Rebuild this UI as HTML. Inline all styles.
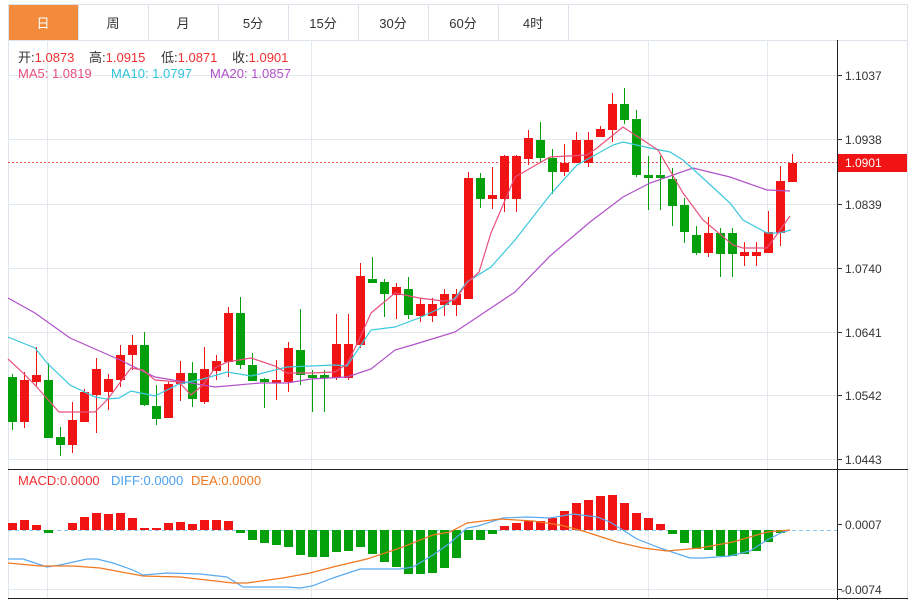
<!DOCTYPE html>
<html><head><meta charset="utf-8"><style>
html,body{margin:0;padding:0;background:#fff;}
body{width:918px;height:600px;overflow:hidden;position:relative;font-family:"Liberation Sans","Noto Sans CJK SC",sans-serif;}
svg{position:absolute;left:0;top:0;}
</style></head><body>
<svg width="918" height="600" viewBox="0 0 918 600" xmlns="http://www.w3.org/2000/svg" font-family="Liberation Sans, Noto Sans CJK SC, sans-serif">
<rect x="8.5" y="4.5" width="899" height="36" fill="#fff" stroke="#dde3ea"/>
<rect x="9" y="5" width="69" height="35" fill="#f28c3c"/>
<g stroke="#dde3ea"><line x1="78.5" y1="5" x2="78.5" y2="40"/><line x1="148.5" y1="5" x2="148.5" y2="40"/><line x1="218.5" y1="5" x2="218.5" y2="40"/><line x1="288.5" y1="5" x2="288.5" y2="40"/><line x1="358.5" y1="5" x2="358.5" y2="40"/><line x1="428.5" y1="5" x2="428.5" y2="40"/><line x1="498.5" y1="5" x2="498.5" y2="40"/><line x1="568.5" y1="5" x2="568.5" y2="40"/></g>
<g font-size="13" text-anchor="middle" fill="#333"><text x="43" y="28" fill="#fff">日</text><text x="113" y="28">周</text><text x="183" y="28">月</text><text x="253" y="28">5分</text><text x="323" y="28">15分</text><text x="393" y="28">30分</text><text x="463" y="28">60分</text><text x="533" y="28">4时</text></g>
<line x1="8.5" y1="40" x2="8.5" y2="600" stroke="#dde3ea"/>
<line x1="907.5" y1="40" x2="907.5" y2="600" stroke="#dde3ea"/>
<g stroke="#e4e9ef"><line x1="8" y1="75.5" x2="837" y2="75.5"/><line x1="8" y1="139.5" x2="837" y2="139.5"/><line x1="8" y1="204.5" x2="837" y2="204.5"/><line x1="8" y1="268.5" x2="837" y2="268.5"/><line x1="8" y1="332.5" x2="837" y2="332.5"/><line x1="8" y1="395.5" x2="837" y2="395.5"/><line x1="8" y1="459.5" x2="837" y2="459.5"/><line x1="8" y1="589.5" x2="837" y2="589.5"/>
<line x1="47.5" y1="40" x2="47.5" y2="599"/><line x1="311.5" y1="40" x2="311.5" y2="599"/><line x1="648.5" y1="40" x2="648.5" y2="599"/><line x1="767.5" y1="40" x2="767.5" y2="599"/></g>
<line x1="837.5" y1="40" x2="837.5" y2="600" stroke="#222"/>
<line x1="8" y1="469.5" x2="908" y2="469.5" stroke="#222"/>
<line x1="8" y1="598.5" x2="908" y2="598.5" stroke="#222"/>
<g stroke="#333"><line x1="837" y1="75.5" x2="842" y2="75.5"/><line x1="837" y1="139.5" x2="842" y2="139.5"/><line x1="837" y1="204.5" x2="842" y2="204.5"/><line x1="837" y1="268.5" x2="842" y2="268.5"/><line x1="837" y1="332.5" x2="842" y2="332.5"/><line x1="837" y1="395.5" x2="842" y2="395.5"/><line x1="837" y1="459.5" x2="842" y2="459.5"/><line x1="837" y1="524.5" x2="842" y2="524.5"/><line x1="837" y1="589.5" x2="842" y2="589.5"/></g>
<g font-size="12" fill="#333"><text x="845" y="80">1.1037</text><text x="845" y="144">1.0938</text><text x="845" y="209">1.0839</text><text x="845" y="273">1.0740</text><text x="845" y="337">1.0641</text><text x="845" y="400">1.0542</text><text x="845" y="464">1.0443</text><text x="845" y="529">0.0007</text><text x="841" y="594">-0.0074</text></g>
<line x1="8" y1="162.5" x2="837" y2="162.5" stroke="#f05050" stroke-dasharray="2,2"/>
<rect x="838" y="154" width="69" height="18" fill="#f01414"/>
<text x="845" y="167" font-size="12" fill="#fff">1.0901</text>
<g font-size="13"><text x="18" y="62" fill="#333">开:<tspan fill="#f03030">1.0873</tspan><tspan x="89" fill="#333">高:</tspan><tspan fill="#f03030">1.0915</tspan><tspan x="161" fill="#333">低:</tspan><tspan fill="#f03030">1.0871</tspan><tspan x="232" fill="#333">收:</tspan><tspan fill="#f03030">1.0901</tspan></text>
<text x="18" y="78" fill="#e8507c">MA5: 1.0819</text><text x="111" y="78" fill="#2ec4dc">MA10: 1.0797</text><text x="210" y="78" fill="#b050c8">MA20: 1.0857</text>
<text x="18" y="485" fill="#f03030">MACD:0.0000</text><text x="111" y="485" fill="#4aa0f0">DIFF:0.0000</text><text x="191" y="485" fill="#f07820">DEA:0.0000</text></g>
<g id="c">
<line x1="12.5" y1="374" x2="12.5" y2="430" stroke="#04a00c"/><rect x="8" y="377" width="9" height="45" fill="#04a00c"/>
<line x1="24.5" y1="372" x2="24.5" y2="428" stroke="#f01414"/><rect x="20" y="380" width="9" height="42" fill="#f01414"/>
<line x1="36.5" y1="347" x2="36.5" y2="386" stroke="#f01414"/><rect x="32" y="375" width="9" height="7" fill="#f01414"/>
<line x1="48.5" y1="363" x2="48.5" y2="438" stroke="#04a00c"/><rect x="44" y="380" width="9" height="58" fill="#04a00c"/>
<line x1="60.5" y1="427" x2="60.5" y2="456" stroke="#04a00c"/><rect x="56" y="437" width="9" height="8" fill="#04a00c"/>
<line x1="72.5" y1="402" x2="72.5" y2="453" stroke="#f01414"/><rect x="68" y="420" width="9" height="25" fill="#f01414"/>
<line x1="84.5" y1="389" x2="84.5" y2="422" stroke="#f01414"/><rect x="80" y="392" width="9" height="30" fill="#f01414"/>
<line x1="96.5" y1="358" x2="96.5" y2="433" stroke="#f01414"/><rect x="92" y="369" width="9" height="26" fill="#f01414"/>
<line x1="108.5" y1="374" x2="108.5" y2="410" stroke="#f01414"/><rect x="104" y="379" width="9" height="13" fill="#f01414"/>
<line x1="120.5" y1="345" x2="120.5" y2="387" stroke="#f01414"/><rect x="116" y="355" width="9" height="25" fill="#f01414"/>
<line x1="132.5" y1="335" x2="132.5" y2="370" stroke="#f01414"/><rect x="128" y="345" width="9" height="10" fill="#f01414"/>
<line x1="144.5" y1="332" x2="144.5" y2="406" stroke="#04a00c"/><rect x="140" y="345" width="9" height="60" fill="#04a00c"/>
<line x1="156.5" y1="385" x2="156.5" y2="425" stroke="#04a00c"/><rect x="152" y="406" width="9" height="13" fill="#04a00c"/>
<line x1="168.5" y1="382" x2="168.5" y2="418" stroke="#f01414"/><rect x="164" y="384" width="9" height="34" fill="#f01414"/>
<line x1="180.5" y1="361" x2="180.5" y2="401" stroke="#f01414"/><rect x="176" y="373" width="9" height="11" fill="#f01414"/>
<line x1="192.5" y1="362" x2="192.5" y2="407" stroke="#04a00c"/><rect x="188" y="373" width="9" height="26" fill="#04a00c"/>
<line x1="204.5" y1="347" x2="204.5" y2="404" stroke="#f01414"/><rect x="200" y="369" width="9" height="33" fill="#f01414"/>
<line x1="216.5" y1="355" x2="216.5" y2="380" stroke="#f01414"/><rect x="212" y="361" width="9" height="10" fill="#f01414"/>
<line x1="228.5" y1="307" x2="228.5" y2="377" stroke="#f01414"/><rect x="224" y="313" width="9" height="49" fill="#f01414"/>
<line x1="240.5" y1="297" x2="240.5" y2="369" stroke="#04a00c"/><rect x="236" y="313" width="9" height="52" fill="#04a00c"/>
<line x1="252.5" y1="353" x2="252.5" y2="381" stroke="#04a00c"/><rect x="248" y="365" width="9" height="16" fill="#04a00c"/>
<line x1="264.5" y1="378" x2="264.5" y2="408" stroke="#04a00c"/><rect x="260" y="379" width="9" height="3" fill="#04a00c"/>
<line x1="276.5" y1="360" x2="276.5" y2="400" stroke="#f01414"/><rect x="272" y="380" width="9" height="3" fill="#f01414"/>
<line x1="288.5" y1="342" x2="288.5" y2="392" stroke="#f01414"/><rect x="284" y="348" width="9" height="34" fill="#f01414"/>
<line x1="300.5" y1="309" x2="300.5" y2="385" stroke="#04a00c"/><rect x="296" y="350" width="9" height="25" fill="#04a00c"/>
<line x1="312.5" y1="370" x2="312.5" y2="412" stroke="#04a00c"/><rect x="308" y="375" width="9" height="3" fill="#04a00c"/>
<line x1="324.5" y1="370" x2="324.5" y2="412" stroke="#04a00c"/><rect x="320" y="375" width="9" height="3" fill="#04a00c"/>
<line x1="336.5" y1="314" x2="336.5" y2="380" stroke="#f01414"/><rect x="332" y="344" width="9" height="34" fill="#f01414"/>
<line x1="348.5" y1="314" x2="348.5" y2="380" stroke="#f01414"/><rect x="344" y="344" width="9" height="34" fill="#f01414"/>
<line x1="360.5" y1="263" x2="360.5" y2="348" stroke="#f01414"/><rect x="356" y="276" width="9" height="69" fill="#f01414"/>
<line x1="372.5" y1="257" x2="372.5" y2="283" stroke="#04a00c"/><rect x="368" y="279" width="9" height="4" fill="#04a00c"/>
<line x1="384.5" y1="279" x2="384.5" y2="317" stroke="#04a00c"/><rect x="380" y="282" width="9" height="12" fill="#04a00c"/>
<line x1="396.5" y1="283" x2="396.5" y2="319" stroke="#f01414"/><rect x="392" y="287" width="9" height="8" fill="#f01414"/>
<line x1="408.5" y1="277" x2="408.5" y2="319" stroke="#04a00c"/><rect x="404" y="289" width="9" height="26" fill="#04a00c"/>
<line x1="420.5" y1="298" x2="420.5" y2="322" stroke="#f01414"/><rect x="416" y="304" width="9" height="12" fill="#f01414"/>
<line x1="432.5" y1="298" x2="432.5" y2="322" stroke="#f01414"/><rect x="428" y="304" width="9" height="12" fill="#f01414"/>
<line x1="444.5" y1="289" x2="444.5" y2="316" stroke="#f01414"/><rect x="440" y="294" width="9" height="11" fill="#f01414"/>
<line x1="456.5" y1="289" x2="456.5" y2="316" stroke="#f01414"/><rect x="452" y="294" width="9" height="11" fill="#f01414"/>
<line x1="468.5" y1="172" x2="468.5" y2="299" stroke="#f01414"/><rect x="464" y="178" width="9" height="121" fill="#f01414"/>
<line x1="480.5" y1="173" x2="480.5" y2="208" stroke="#04a00c"/><rect x="476" y="178" width="9" height="21" fill="#04a00c"/>
<line x1="492.5" y1="167" x2="492.5" y2="209" stroke="#f01414"/><rect x="488" y="195" width="9" height="4" fill="#f01414"/>
<line x1="504.5" y1="155" x2="504.5" y2="212" stroke="#f01414"/><rect x="500" y="156" width="9" height="43" fill="#f01414"/>
<line x1="516.5" y1="155" x2="516.5" y2="212" stroke="#f01414"/><rect x="512" y="156" width="9" height="43" fill="#f01414"/>
<line x1="528.5" y1="130" x2="528.5" y2="165" stroke="#f01414"/><rect x="524" y="138" width="9" height="21" fill="#f01414"/>
<line x1="540.5" y1="122" x2="540.5" y2="163" stroke="#04a00c"/><rect x="536" y="140" width="9" height="18" fill="#04a00c"/>
<line x1="552.5" y1="149" x2="552.5" y2="194" stroke="#04a00c"/><rect x="548" y="158" width="9" height="14" fill="#04a00c"/>
<line x1="564.5" y1="144" x2="564.5" y2="176" stroke="#f01414"/><rect x="560" y="163" width="9" height="9" fill="#f01414"/>
<line x1="576.5" y1="132" x2="576.5" y2="163" stroke="#f01414"/><rect x="572" y="140" width="9" height="23" fill="#f01414"/>
<line x1="588.5" y1="132" x2="588.5" y2="167" stroke="#f01414"/><rect x="584" y="140" width="9" height="23" fill="#f01414"/>
<line x1="600.5" y1="126" x2="600.5" y2="137" stroke="#f01414"/><rect x="596" y="129" width="9" height="8" fill="#f01414"/>
<line x1="612.5" y1="93" x2="612.5" y2="142" stroke="#f01414"/><rect x="608" y="104" width="9" height="26" fill="#f01414"/>
<line x1="624.5" y1="88" x2="624.5" y2="124" stroke="#04a00c"/><rect x="620" y="104" width="9" height="16" fill="#04a00c"/>
<line x1="636.5" y1="110" x2="636.5" y2="177" stroke="#04a00c"/><rect x="632" y="119" width="9" height="56" fill="#04a00c"/>
<line x1="648.5" y1="156" x2="648.5" y2="210" stroke="#04a00c"/><rect x="644" y="175" width="9" height="3" fill="#04a00c"/>
<line x1="660.5" y1="156" x2="660.5" y2="210" stroke="#04a00c"/><rect x="656" y="175" width="9" height="3" fill="#04a00c"/>
<line x1="672.5" y1="168" x2="672.5" y2="226" stroke="#04a00c"/><rect x="668" y="179" width="9" height="27" fill="#04a00c"/>
<line x1="684.5" y1="198" x2="684.5" y2="243" stroke="#04a00c"/><rect x="680" y="205" width="9" height="27" fill="#04a00c"/>
<line x1="696.5" y1="226" x2="696.5" y2="255" stroke="#04a00c"/><rect x="692" y="235" width="9" height="18" fill="#04a00c"/>
<line x1="708.5" y1="217" x2="708.5" y2="257" stroke="#f01414"/><rect x="704" y="233" width="9" height="20" fill="#f01414"/>
<line x1="720.5" y1="228" x2="720.5" y2="277" stroke="#04a00c"/><rect x="716" y="233" width="9" height="21" fill="#04a00c"/>
<line x1="732.5" y1="228" x2="732.5" y2="277" stroke="#04a00c"/><rect x="728" y="233" width="9" height="21" fill="#04a00c"/>
<line x1="744.5" y1="242" x2="744.5" y2="266" stroke="#f01414"/><rect x="740" y="252" width="9" height="4" fill="#f01414"/>
<line x1="756.5" y1="242" x2="756.5" y2="266" stroke="#f01414"/><rect x="752" y="252" width="9" height="4" fill="#f01414"/>
<line x1="768.5" y1="211" x2="768.5" y2="253" stroke="#f01414"/><rect x="764" y="232" width="9" height="21" fill="#f01414"/>
<line x1="780.5" y1="166" x2="780.5" y2="246" stroke="#f01414"/><rect x="776" y="181" width="9" height="52" fill="#f01414"/>
<line x1="792.5" y1="154" x2="792.5" y2="182" stroke="#f01414"/><rect x="788" y="163" width="9" height="19" fill="#f01414"/>
</g>
<g fill="none" stroke-width="1.2">
<polyline stroke="#b050c8" points="8,298 35,313 70,338 95,349 120,360 155,377 215,387 260,383 287,383 311,379 347,377 371,369 395,350 419,343 455,332 467,324 491,308 515,292 550,256 590,222 623,197 650,183 693,168 730,177 767,190 790,191"/>
<polyline stroke="#3cc8dc" points="8,337 35,348 47,363 70,385 95,397 107,399 119,398 131,391 155,396 179,384 203,379 227,372 251,376 275,370 287,367 311,366 335,365 347,366 371,330 395,327 419,318 443,307 455,298 467,282 491,267 515,240 550,195 577,165 613,145 623,142 650,148 670,152 683,160 705,180 730,203 743,220 767,233 779,233 791,230"/>
<polyline stroke="#e8507c" points="8,359 20,370 35,385 59,412 83,412 95,412 107,400 131,368 143,370 155,380 179,382 191,395 203,385 215,368 227,362 251,358 263,362 275,366 287,373 311,373 335,372 347,364 359,340 371,313 395,293 419,298 443,301 455,300 467,283 479,272 491,233 515,177 550,157 587,155 597,148 623,127 658,150 683,193 703,220 733,245 743,248 767,248 778,233 790,216"/>
</g>
<line x1="8" y1="530.5" x2="837" y2="530.5" stroke="#8cc8ec" stroke-dasharray="4,3"/>
<g fill="#f01414">
<rect x="8" y="523" width="9" height="7"/><rect x="20" y="520" width="9" height="10"/><rect x="32" y="525" width="9" height="5"/>
<rect x="68" y="523" width="9" height="7"/><rect x="80" y="517" width="9" height="13"/><rect x="92" y="513" width="9" height="17"/><rect x="104" y="514" width="9" height="16"/><rect x="116" y="513" width="9" height="17"/><rect x="128" y="518" width="9" height="12"/><rect x="140" y="528" width="9" height="2"/><rect x="152" y="528" width="9" height="2"/><rect x="164" y="523" width="9" height="7"/><rect x="176" y="522" width="9" height="8"/><rect x="188" y="524" width="9" height="6"/><rect x="200" y="520" width="9" height="10"/><rect x="212" y="520" width="9" height="10"/><rect x="224" y="521" width="9" height="9"/>
<rect x="500" y="526" width="9" height="4"/><rect x="512" y="523" width="9" height="7"/><rect x="524" y="521" width="9" height="9"/><rect x="536" y="521" width="9" height="9"/><rect x="548" y="518" width="9" height="12"/><rect x="560" y="511" width="9" height="19"/><rect x="572" y="503" width="9" height="27"/><rect x="584" y="500" width="9" height="30"/><rect x="596" y="496" width="9" height="34"/><rect x="608" y="495" width="9" height="35"/><rect x="620" y="503" width="9" height="27"/><rect x="632" y="513" width="9" height="17"/><rect x="644" y="518" width="9" height="12"/><rect x="656" y="524" width="9" height="6"/>
</g>
<g fill="#04a00c">
<rect x="44" y="530" width="9" height="3"/>
<rect x="236" y="530" width="9" height="3"/><rect x="248" y="530" width="9" height="10"/><rect x="260" y="530" width="9" height="13"/><rect x="272" y="530" width="9" height="15"/><rect x="284" y="530" width="9" height="17"/><rect x="296" y="530" width="9" height="25"/><rect x="308" y="530" width="9" height="27"/><rect x="320" y="530" width="9" height="27"/><rect x="332" y="530" width="9" height="22"/><rect x="344" y="530" width="9" height="21"/><rect x="356" y="530" width="9" height="17"/><rect x="368" y="530" width="9" height="24"/><rect x="380" y="530" width="9" height="32"/><rect x="392" y="530" width="9" height="37"/><rect x="404" y="530" width="9" height="44"/><rect x="416" y="530" width="9" height="44"/><rect x="428" y="530" width="9" height="43"/><rect x="440" y="530" width="9" height="38"/><rect x="452" y="530" width="9" height="28"/><rect x="464" y="530" width="9" height="10"/><rect x="476" y="530" width="9" height="10"/><rect x="488" y="530" width="9" height="4"/>
<rect x="668" y="530" width="9" height="4"/><rect x="680" y="530" width="9" height="13"/><rect x="692" y="530" width="9" height="19"/><rect x="704" y="530" width="9" height="20"/><rect x="716" y="530" width="9" height="26"/><rect x="728" y="530" width="9" height="26"/><rect x="740" y="530" width="9" height="24"/><rect x="752" y="530" width="9" height="21"/><rect x="764" y="530" width="9" height="12"/><rect x="776" y="530" width="9" height="3"/>
</g>
<g fill="none" stroke-width="1.2">
<polyline stroke="#5aaaf0" points="8,559 23,559 47,567 60,565 87,559 97,559 113,563 133,570 143,575 167,573 200,574 227,577 243,587 273,587 287,587 300,588 312,586 333,578 360,569 400,569 413,567 433,555 450,543 467,528 478,526 503,518 527,517 550,518 573,514 597,517 610,522 637,539 660,548 690,558 703,558 730,556 750,551 767,540 783,532 790,530"/>
<polyline stroke="#f07820" points="8,563 40,566 73,566 100,568 143,576 180,577 233,583 247,583 283,578 310,573 337,566 367,559 400,548 433,535 450,532 467,523 500,519 533,521 560,525 583,531 617,542 643,548 667,551 700,548 733,542 767,532 790,530"/>
</g>
</svg>
</body></html>
